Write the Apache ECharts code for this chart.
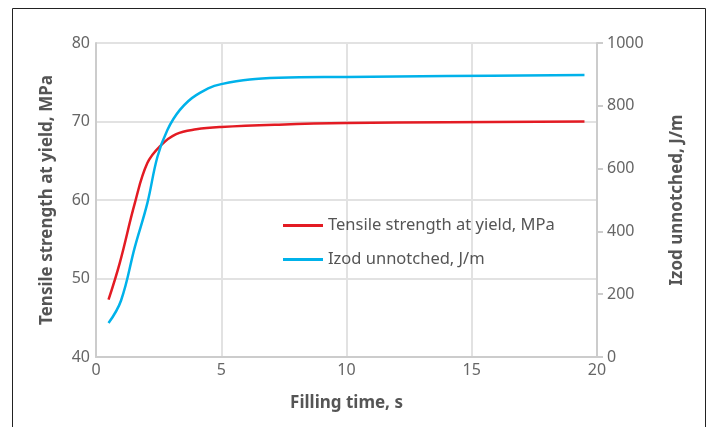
<!DOCTYPE html>
<html><head><meta charset="utf-8">
<script src="https://cdn.jsdelivr.net/npm/echarts@6/dist/echarts.min.js"></script>
<style>html,body{margin:0;padding:0;background:#fff}#c{width:709px;height:427px}</style>
</head><body><div id="c"></div>
<script>
const fillTime = [0.5, 0.95, 1.55, 2.05, 2.6, 3.2, 4.0, 5.0, 7.3, 10, 14, 19.5];
const tensile  = [47.3, 52.0, 59.6, 64.7, 67.0, 68.4, 69.0, 69.3, 69.6, 69.8, 69.9, 70.0];
const izodTime = [0.5, 1.0, 1.55, 2.05, 2.45, 2.85, 3.35, 4.0, 5.0, 7.3, 10, 14, 19.5];
const izod     = [108, 180, 350, 490, 637, 723, 787, 834, 869, 889, 892, 895, 898];
const xTicks = [0, 5, 10, 15, 20];

const font = 'Noto Sans';
const chart = echarts.init(document.getElementById('c'));
chart.setOption({
  animation: false,
  textStyle: {fontFamily: font},
  graphic: [{type:'rect', shape:{x:12.5, y:8.5, width:693, height:440}, style:{fill:'none', stroke:'#222', lineWidth:1}, silent:true}],
  grid: {left: 96, right: 112, top: 43, bottom: 70},
  legend: {
    left: 278, top: 212, orient: 'vertical', itemGap: 17, itemWidth: 40, itemHeight: 3,
    icon: 'rect',
    textStyle: {color: '#555', fontSize: 16.5, fontFamily: font, padding: [0,0,0,0]},
    data: ['Tensile strength at yield, MPa', 'Izod unnotched, J/m']
  },
  xAxis: {
    type: 'value', min: 0, max: 20, interval: 5,
    name: 'Filling time, s', nameLocation: 'middle', nameGap: 38,
    nameTextStyle: {fontSize: 17, fontWeight: 'bold', color: '#555'},
    axisLine: {show: true, lineStyle: {color: '#ccc', width: 2}},
    axisTick: {show: false},
    axisLabel: {color: '#666', fontSize: 16, margin: 5, formatter: v => xTicks.includes(v) ? String(v) : ''},
    splitLine: {show: true, lineStyle: {color: '#e2e2e2', width: 2}}
  },
  yAxis: [{
    type: 'value', min: 40, max: 80, interval: 10, position: 'left',
    name: 'Tensile strength at yield, MPa', nameLocation: 'middle', nameGap: 40,
    nameTextStyle: {fontSize: 17, fontWeight: 'bold', color: '#555'},
    axisLine: {show: true, lineStyle: {color: '#ccc', width: 2}},
    axisTick: {show: false},
    axisLabel: {color: '#666', fontSize: 16, margin: 6},
    splitLine: {show: true, lineStyle: {color: '#e2e2e2', width: 2}}
  }, {
    type: 'value', min: 0, max: 1000, interval: 200, position: 'right',
    name: 'Izod unnotched, J/m', nameLocation: 'middle', nameGap: 72, nameRotate: 90,
    nameTextStyle: {fontSize: 17, fontWeight: 'bold', color: '#555'},
    axisLine: {show: true, lineStyle: {color: '#ccc', width: 2}},
    axisTick: {show: true, length: 6, lineStyle: {color: '#ccc', width: 2}},
    axisLabel: {color: '#666', fontSize: 16, margin: 10, formatter: v => String(v)},
    splitLine: {show: false}
  }],
  series: [{
    name: 'Tensile strength at yield, MPa', type: 'line', yAxisIndex: 0,
    data: fillTime.map((t, i) => [t, tensile[i]]), smooth: 0.4, showSymbol: false,
    lineStyle: {color: '#e31b23', width: 2.5}, itemStyle: {color: '#e31b23'}
  }, {
    name: 'Izod unnotched, J/m', type: 'line', yAxisIndex: 1,
    data: izodTime.map((t, i) => [t, izod[i]]), smooth: 0.4, showSymbol: false,
    lineStyle: {color: '#00b2ea', width: 2.5}, itemStyle: {color: '#00b2ea'}
  }]
});
</script></body></html>
